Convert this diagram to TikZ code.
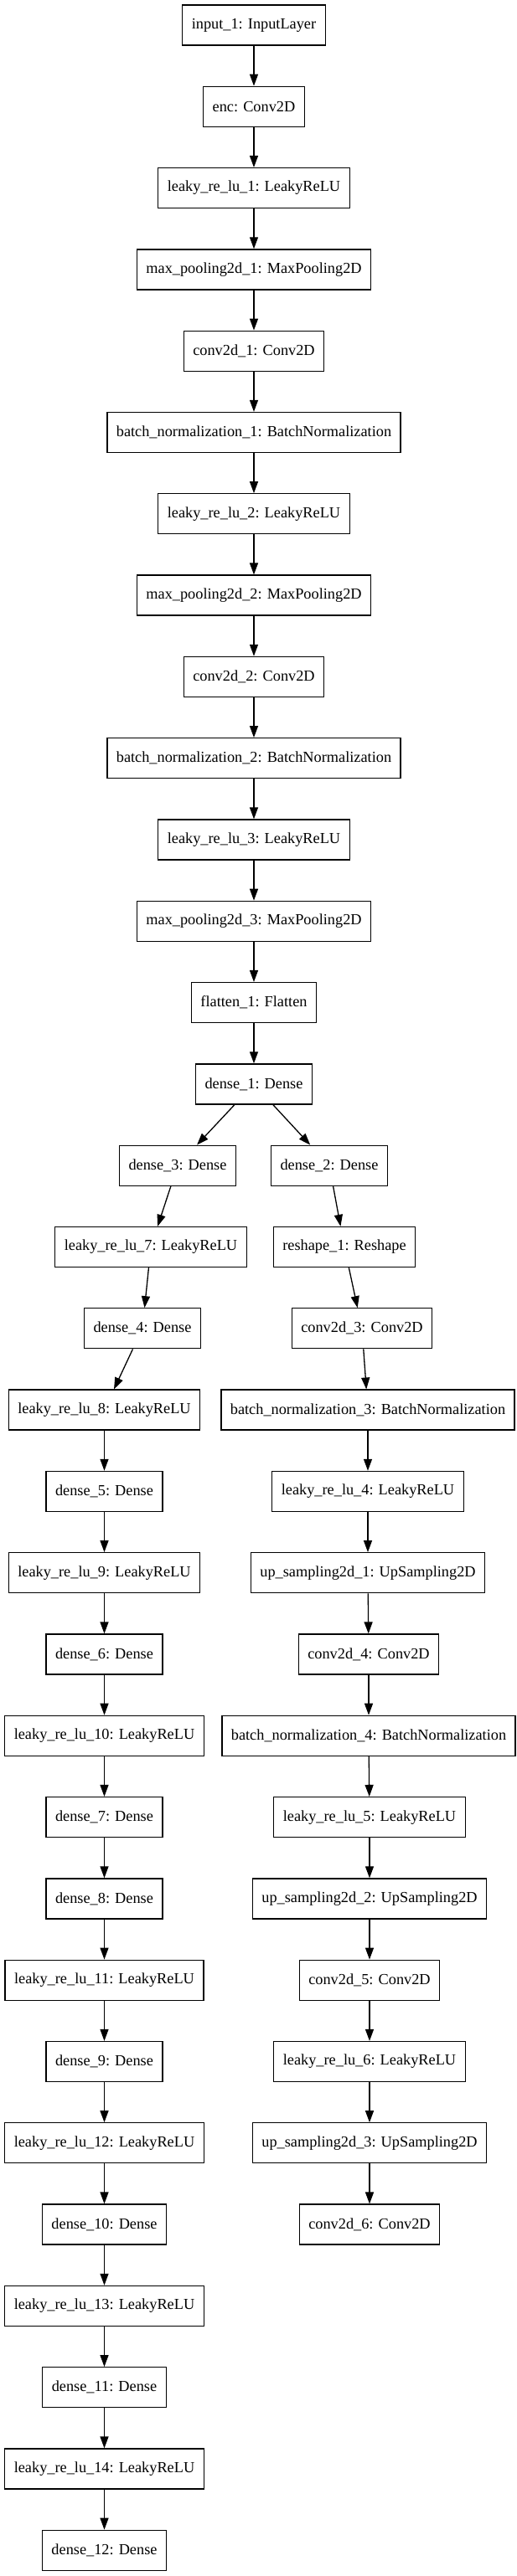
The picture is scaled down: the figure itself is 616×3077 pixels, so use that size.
\documentclass[tikz,border=0pt]{standalone}
\usepackage{fontspec}
\setmainfont{Liberation Serif}
\usetikzlibrary{arrows.meta}

\begin{document}
\begin{tikzpicture}[x=1pt,y=1pt,->,>={Triangle[length=14pt,width=10pt]},line width=1.3pt,node distance=97.3pt,
                    layer/.style={rectangle, draw, line width=1.3pt, minimum height=48pt, inner xsep=11pt, font=\fontsize{18.3}{20}\selectfont},]
                    \useasboundingbox (0,0) rectangle (616,-3077);

                    % encoder
                    \node [layer](1) at (303,-30){input\_1: InputLayer};
                    \node [layer](2) [below of = 1]{enc: Conv2D};
                    \node [layer](3) [below of = 2]{leaky\_re\_lu\_1: LeakyReLU};
                    \node [layer](4) [below of = 3]{max\_pooling2d\_1: MaxPooling2D};
                    \node [layer](5) [below of = 4]{conv2d\_1: Conv2D};
                    \node [layer](6) [below of = 5]{batch\_normalization\_1: BatchNormalization};
                    \node [layer](7) [below of = 6]{leaky\_re\_lu\_2: LeakyReLU};
                    \node [layer](8) [below of = 7]{max\_pooling2d\_2: MaxPooling2D};
                    \node [layer](9) [below of = 8]{conv2d\_2: Conv2D};
                    \node [layer](10) [below of = 9]{batch\_normalization\_2: BatchNormalization};
                    \node [layer](11) [below of = 10]{leaky\_re\_lu\_3: LeakyReLU};
                    \node [layer](12) [below of = 11]{max\_pooling2d\_3: MaxPooling2D};
                    \node [layer](13) [below of = 12]{flatten\_1: Flatten};
                    \node [layer](14) [below of = 13]{dense\_1: Dense};

                    % left branch
                    \node [layer](15) [below of = 14, xshift = -91]{dense\_3: Dense};
                    \node [layer](16) [below of = 15, xshift = -32]{leaky\_re\_lu\_7: LeakyReLU};
                    \node [layer](17) [below of = 16, xshift = -10]{dense\_4: Dense};
                    \node [layer](18) [below of = 17, xshift = -45.5]{leaky\_re\_lu\_8: LeakyReLU};
                    \node [layer](19) [below of = 18]{dense\_5: Dense};
                    \node [layer](20) [below of = 19]{leaky\_re\_lu\_9: LeakyReLU};
                    \node [layer](21) [below of = 20]{dense\_6: Dense};
                    \node [layer](22) [below of = 21]{leaky\_re\_lu\_10: LeakyReLU};
                    \node [layer](23) [below of = 22]{dense\_7: Dense};
                    \node [layer](24) [below of = 23]{dense\_8: Dense};
                    \node [layer](25) [below of = 24]{leaky\_re\_lu\_11: LeakyReLU};
                    \node [layer](26) [below of = 25]{dense\_9: Dense};
                    \node [layer](27) [below of = 26]{leaky\_re\_lu\_12: LeakyReLU};
                    \node [layer](28) [below of = 27]{dense\_10: Dense};
                    \node [layer](29) [below of = 28]{leaky\_re\_lu\_13: LeakyReLU};
                    \node [layer](30) [below of = 29]{dense\_11: Dense};
                    \node [layer](31) [below of = 30]{leaky\_re\_lu\_14: LeakyReLU};
                    \node [layer](32) [below of = 31]{dense\_12: Dense};

                    % right branch
                    \node [layer](33) [below of = 14, xshift = 90]{dense\_2: Dense};
                    \node [layer](34) [below of = 33, xshift = 18]{reshape\_1: Reshape};
                    \node [layer](35) [below of = 34, xshift = 21]{conv2d\_3: Conv2D};
                    \node [layer](36) [below of = 35, xshift = 7]{batch\_normalization\_3: BatchNormalization};
                    \node [layer](37) [below of = 36]{leaky\_re\_lu\_4: LeakyReLU};
                    \node [layer](38) [below of = 37]{up\_sampling2d\_1: UpSampling2D};
                    \node [layer](39) [below of = 38, xshift = 1]{conv2d\_4: Conv2D};
                    \node [layer](40) [below of = 39]{batch\_normalization\_4: BatchNormalization};
                    \node [layer](41) [below of = 40, xshift = 1]{leaky\_re\_lu\_5: LeakyReLU};
                    \node [layer](42) [below of = 41]{up\_sampling2d\_2: UpSampling2D};
                    \node [layer](43) [below of = 42]{conv2d\_5: Conv2D};
                    \node [layer](44) [below of = 43]{leaky\_re\_lu\_6: LeakyReLU};
                    \node [layer](45) [below of = 44]{up\_sampling2d\_3: UpSampling2D};
                    \node [layer](46) [below of = 45]{conv2d\_6: Conv2D};

                    \path
                        (1) edge (2)
                        (2) edge (3)
                        (3) edge (4)
                        (4) edge (5)
                        (5) edge (6)
                        (6) edge (7)
                        (7) edge (8)
                        (8) edge (9)
                        (9) edge (10)
                        (10) edge (11)
                        (11) edge (12)
                        (12) edge (13)
                        (13) edge (14)

                        (14) edge (15)
                        (15) edge (16)
                        (16) edge (17)
                        (17) edge (18)
                        (18) edge (19)
                        (19) edge (20)
                        (20) edge (21)
                        (21) edge (22)
                        (22) edge (23)
                        (23) edge (24)
                        (24) edge (25)
                        (25) edge (26)
                        (26) edge (27)
                        (27) edge (28)
                        (28) edge (29)
                        (29) edge (30)
                        (30) edge (31)
                        (31) edge (32)

                        (14) edge (33)
                        (33) edge (34)
                        (34) edge (35)
                        (35) edge (36)
                        (36) edge (37)
                        (37) edge (38)
                        (38) edge (39)
                        (39) edge (40)
                        (40) edge (41)
                        (41) edge (42)
                        (42) edge (43)
                        (43) edge (44)
                        (44) edge (45)
                        (45) edge (46)
                    ;

\end{tikzpicture}
\end{document}
